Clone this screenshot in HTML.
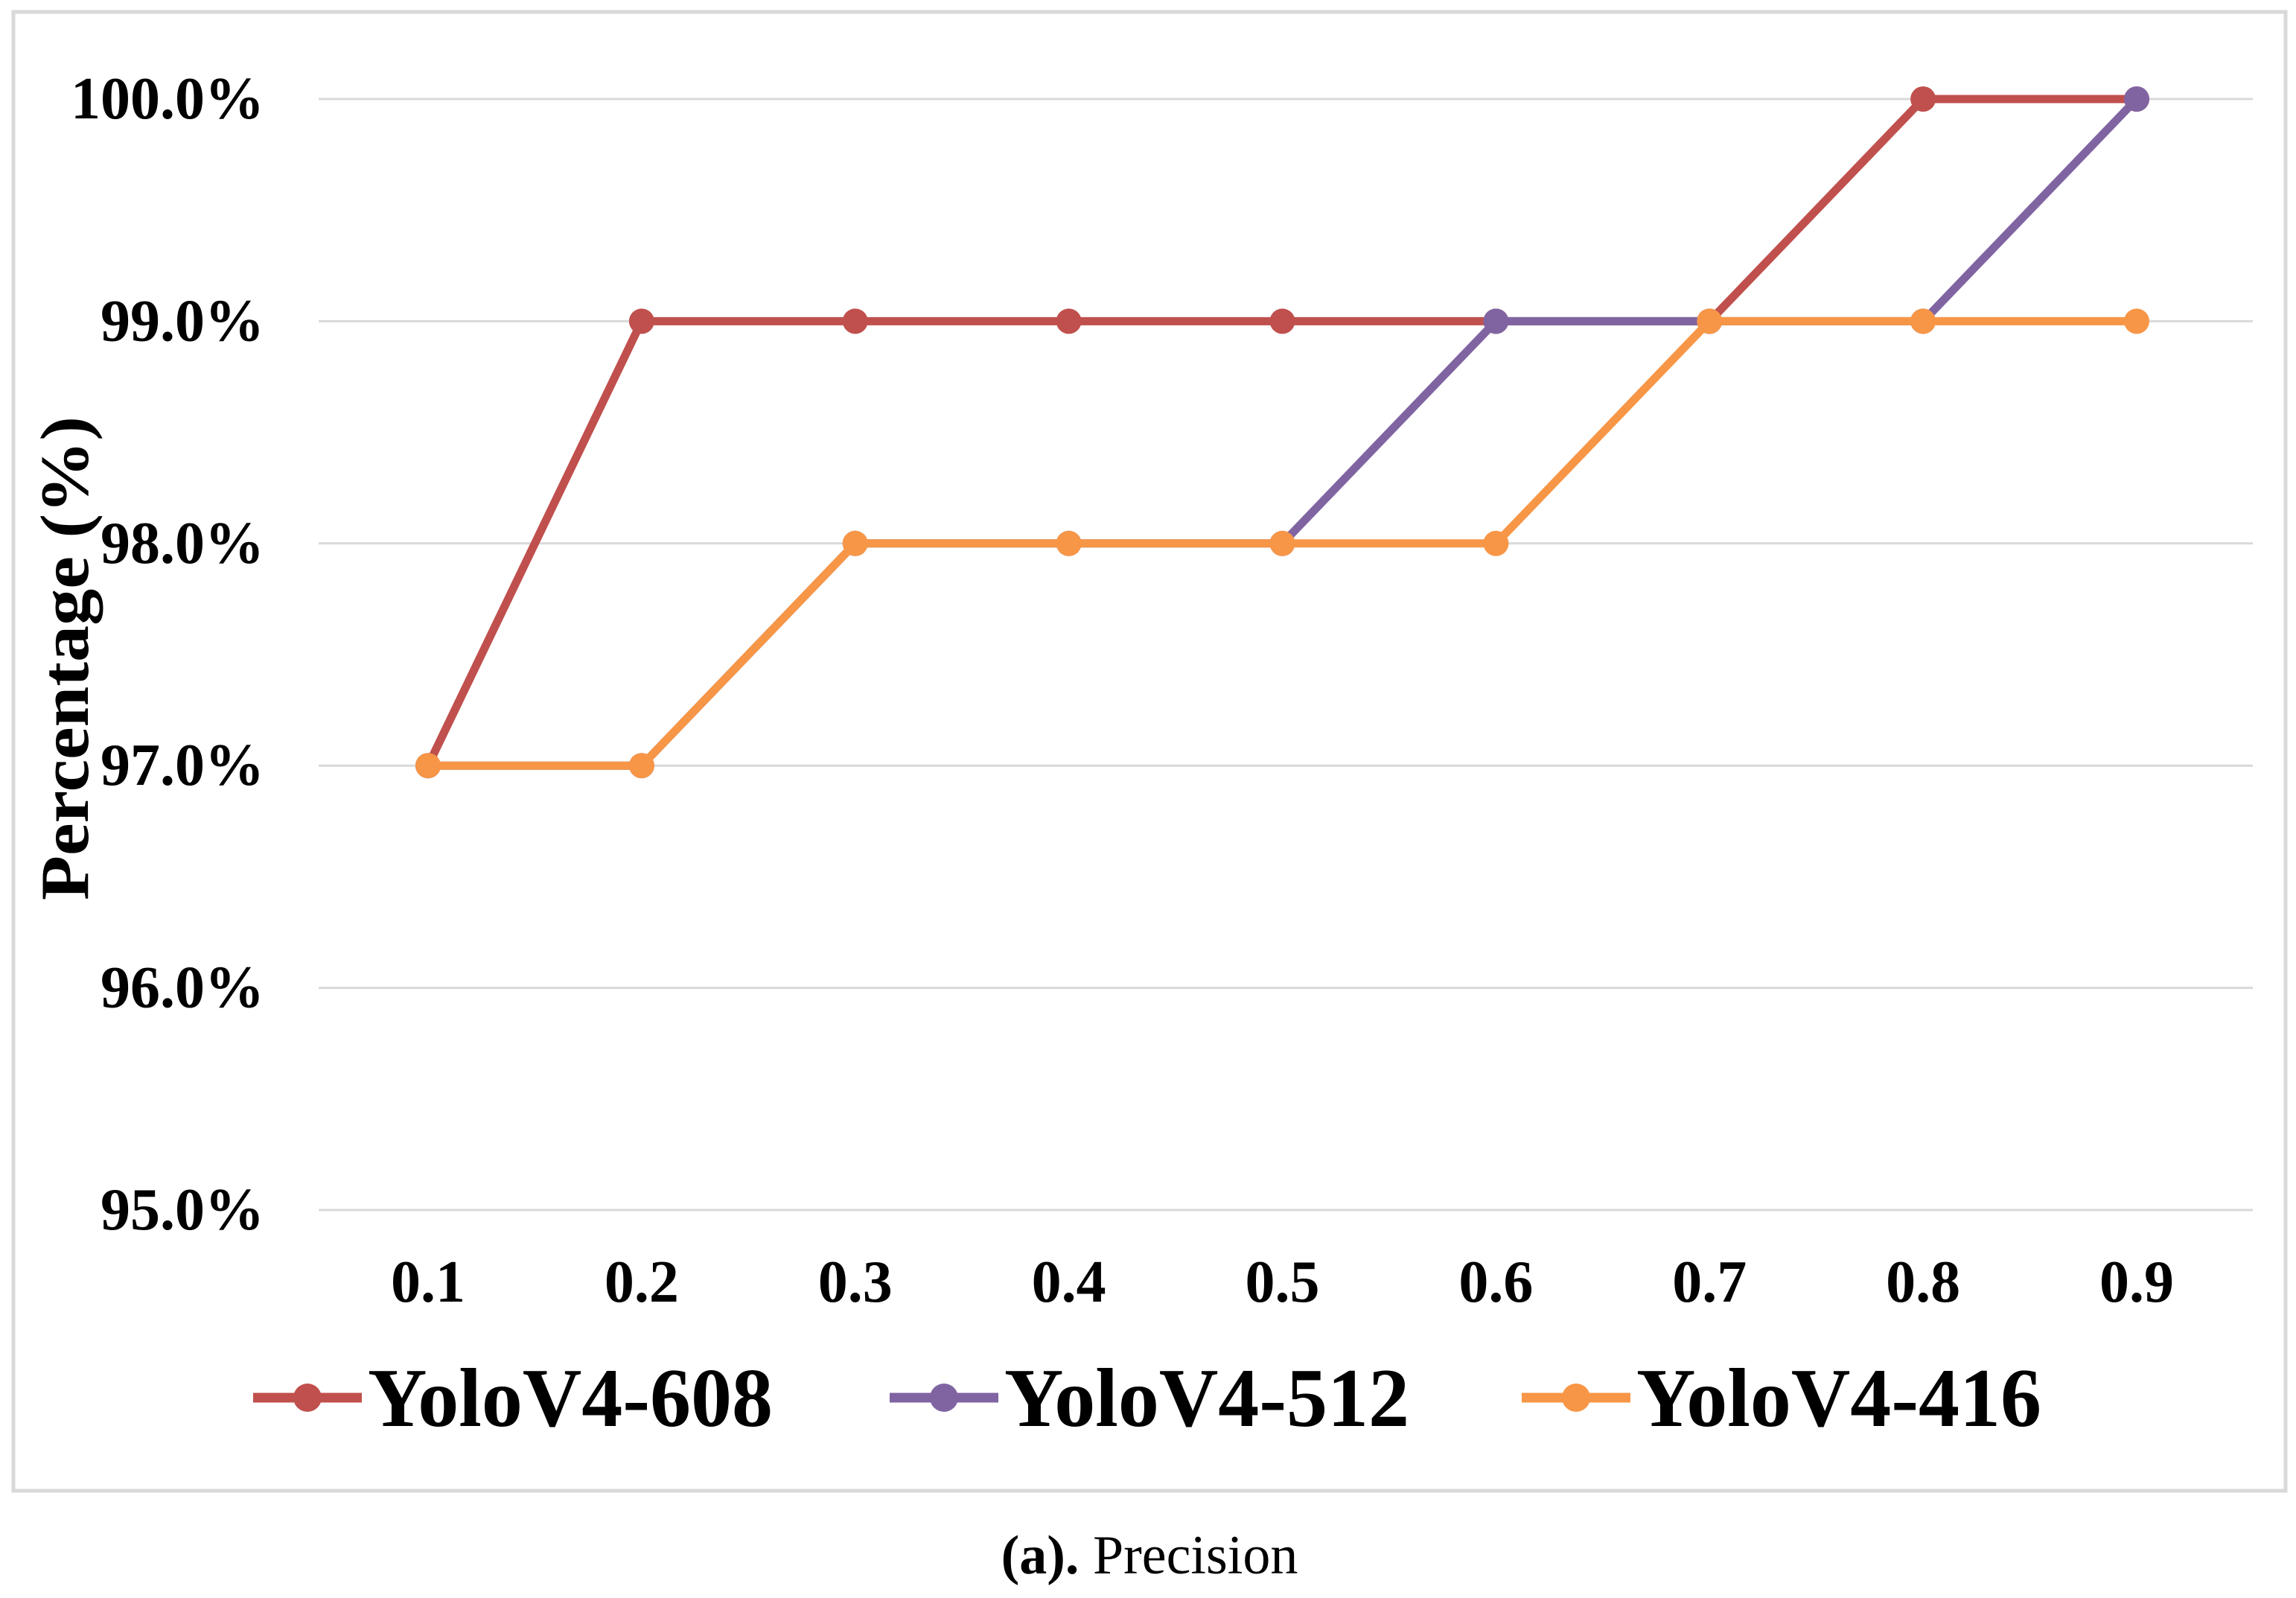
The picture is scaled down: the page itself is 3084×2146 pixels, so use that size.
<!DOCTYPE html>
<html><head><meta charset="utf-8"><style>
html,body{margin:0;padding:0;background:#fff;}
svg{display:block;font-family:"Liberation Serif",serif;}
</style></head><body>
<svg id="chart" width="3084" height="2146" viewBox="0 0 3084 2146">
<rect x="18" y="16" width="3052" height="1986" fill="#fff" stroke="#d9d9d9" stroke-width="5"/>
<g id="grid"></g>
<g id="yticks"></g>
<g id="xticks"></g>
<g id="series"></g>
<text x="0" y="0" transform="translate(118,884) rotate(-90)" text-anchor="middle" font-weight="bold" font-size="92" textLength="650" lengthAdjust="spacingAndGlyphs">Percentage (%)</text>
<g id="legend"></g>
<text x="1544" y="2113" text-anchor="middle" font-size="74"><tspan font-weight="bold">(a).</tspan> Precision</text>
</svg>
<script>
const categories = ["0.1","0.2","0.3","0.4","0.5","0.6","0.7","0.8","0.9"];
const yolo608 = [97,99,99,99,99,99,99,100,100];
const yolo512 = [97,97,98,98,98,99,99,99,100];
const yolo416 = [97,97,98,98,98,98,99,99,99];
const yTicks = [95,96,97,98,99,100];
const yTickLabels = ["95.0%","96.0%","97.0%","98.0%","99.0%","100.0%"];
const seriesNames = ["YoloV4-608","YoloV4-512","YoloV4-416"];

const NS="http://www.w3.org/2000/svg";
function yScale(v){return 1625-(v-95)*(1625-133)/5;}
function xScale(i){return 575+i*(2870-575)/8;}
function mk(tag,attrs,parent){const e=document.createElementNS(NS,tag);for(const k in attrs)e.setAttribute(k,attrs[k]);parent.appendChild(e);return e;}

const grid=document.getElementById('grid');
const yt=document.getElementById('yticks');
yTicks.forEach((t,i)=>{
  const l=mk('line',{x1:428,x2:3026,y1:yScale(t),y2:yScale(t),stroke:'#d9d9d9','stroke-width':3},grid);
  
  
  const tx=mk('text',{x:355,y:yScale(t)+26,'text-anchor':'end','font-size':80,'font-weight':'bold'},yt);
  tx.textContent=yTickLabels[i];
  
  
});
const xt=document.getElementById('xticks');
categories.forEach((c,i)=>{
  const tx=mk('text',{x:xScale(i),y:1748,'text-anchor':'middle','font-size':80,'font-weight':'bold'},xt);
  tx.textContent=c;
  
  
});
const colors=["#C0504D","#8064A2","#F79646"];
const data=[yolo608,yolo512,yolo416];
const sg=document.getElementById('series');
data.forEach((arr,si)=>{
  const g=mk('g',{},sg);
  
  
  const pts=arr.map((v,i)=>xScale(i)+','+yScale(v)).join(' ');
  const pl=mk('polyline',{points:pts,fill:'none',stroke:colors[si],'stroke-width':11,'stroke-linejoin':'round'},g);
  
  
  arr.forEach((v,i)=>{
    const c=mk('circle',{cx:xScale(i),cy:yScale(v),r:17,fill:colors[si]},g);
    
    
  });
});
const lg=document.getElementById('legend');
const legX=[340,1195,2044];
seriesNames.forEach((n,i)=>{
  const g=mk('g',{},lg);
  
  
  mk('line',{x1:legX[i],x2:legX[i]+146,y1:1877,y2:1877,stroke:colors[i],'stroke-width':13},g);
  mk('circle',{cx:legX[i]+73,cy:1877,r:19,fill:colors[i]},g);
  const t=mk('text',{x:legX[i]+154,y:1915,'font-size':112,'font-weight':'bold',textLength:544,lengthAdjust:'spacingAndGlyphs'},g);
  t.textContent=n;
});
</script>
</body></html>
